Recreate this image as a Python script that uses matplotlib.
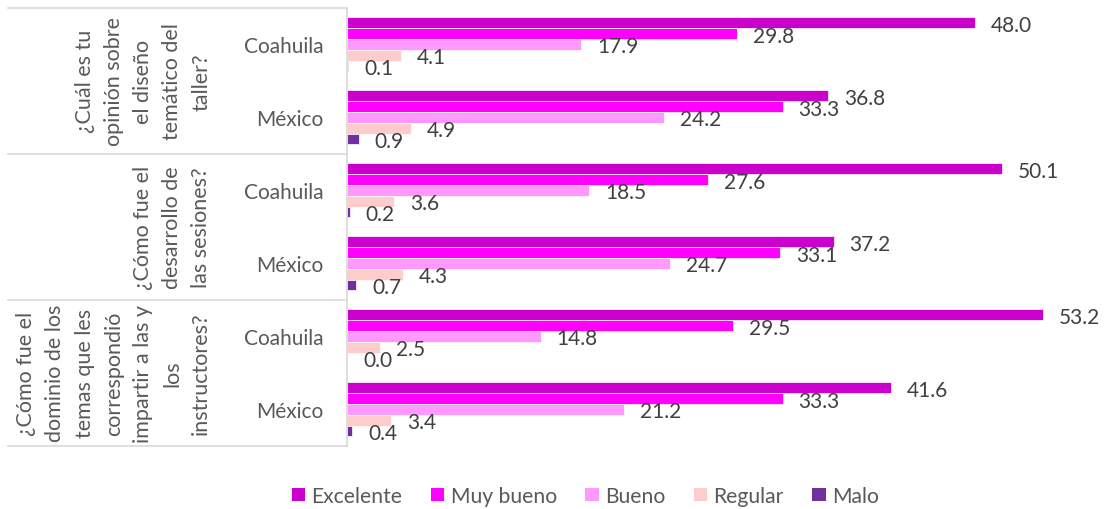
import matplotlib
matplotlib.use("Agg")
import matplotlib.pyplot as plt
from matplotlib.patches import Patch
from matplotlib.transforms import blended_transform_factory

plt.rcParams['font.family'] = ['Lato', 'DejaVu Sans']

# ---- data ----
questions = [
    "¿Cuál es tu\nopinión sobre\nel diseño\ntemático del\ntaller?",
    "¿Cómo fue el\ndesarrollo de\nlas sesiones?",
    "¿Cómo fue el\ndominio de los\ntemas que les\ncorrespondió\nimpartir a las y\nlos\ninstructores?",
]
regions = ["Coahuila", "México"]
series = ["Excelente", "Muy bueno", "Bueno", "Regular", "Malo"]
colors = ["#CC00CC", "#FF00FF", "#FF99FF", "#FFCCCC", "#7030A0"]

excelente = [48.0, 36.8, 50.1, 37.2, 53.2, 41.6]
muy_bueno = [29.8, 33.3, 27.6, 33.1, 29.5, 33.3]
bueno     = [17.9, 24.2, 18.5, 24.7, 14.8, 21.2]
regular   = [4.1, 4.9, 3.6, 4.3, 2.5, 3.4]
malo      = [0.1, 0.9, 0.2, 0.7, 0.0, 0.4]
values = [excelente, muy_bueno, bueno, regular, malo]

cat_labels = [r for q in questions for r in regions]

# ---- figure ----
W, H = 1104, 510
fig = plt.figure(figsize=(W / 100, H / 100), dpi=100)
ax_left, ax_right = 347 / W, 1.0
ax_top, ax_bottom = 1 - 8.8 / H, 1 - 446.8 / H
ax = fig.add_axes([ax_left, ax_bottom, ax_right - ax_left, ax_top - ax_bottom])

n_cat = len(cat_labels)
h = 0.148
for j, (name, vals, col) in enumerate(zip(series, values, colors)):
    ys = [i - 2 * h + j * h for i in range(n_cat)]
    ax.barh(ys, vals, height=h, color=col, edgecolor='white', linewidth=0.5, label=name)
    for y, v in zip(ys, vals):
        ax.annotate(f"{v:.1f}", xy=(v, y), xytext=(11.5, -1.5), textcoords='offset points',
                    ha='left', va='center', fontsize=15, color='#404040', clip_on=False)

ax.set_xlim(0, (W - 347) / 13.08)
ax.set_ylim(n_cat - 0.5, -0.5)
ax.set_xticks([])
ax.set_yticks(range(n_cat))
ax.set_yticklabels(cat_labels, fontsize=15, color='#595959')
ax.tick_params(axis='y', length=0, pad=17)
for s in ['top', 'right', 'bottom']:
    ax.spines[s].set_visible(False)
ax.spines['left'].set_color('#D9D9D9')
ax.spines['left'].set_linewidth(1.2)

# group separators
tr = blended_transform_factory(ax.transAxes, ax.transData)
x0 = (8 - 347) / (W - 347)
for k in range(len(questions) + 1):
    y = -0.5 + 2 * k
    ax.plot([x0, 0], [y, y], transform=tr, color='#D9D9D9', linewidth=1.2, clip_on=False)

# question labels
trq = blended_transform_factory(fig.transFigure, ax.transData)
for k, q in enumerate(questions):
    ax.text(211 / W, 2 * k + 0.5, q, transform=trq, rotation=90, ha='right', va='center',
            multialignment='center', fontsize=15.5, color='#595959', linespacing=1.57)

handles = [Patch(facecolor=c, edgecolor='none', label=s) for s, c in zip(series, colors)]
fig.legend(handles=handles, loc='center', bbox_to_anchor=(585.5 / W, 1 - 497 / H), ncol=5,
           frameon=False, fontsize=15.2, handlelength=0.63, handleheight=0.63, handletextpad=0.3,
           columnspacing=1.35, labelcolor='#595959')

fig.savefig("out.png", dpi=100)
